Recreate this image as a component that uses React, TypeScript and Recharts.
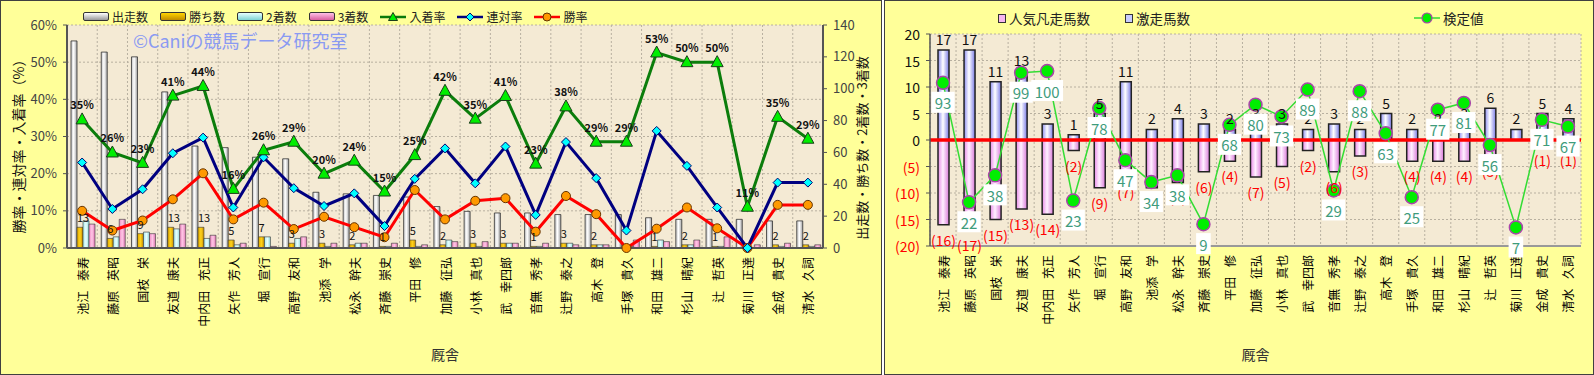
import React from 'react';
import {
  ComposedChart,
  Bar,
  Line,
  XAxis,
  YAxis,
  CartesianGrid,
  Legend,
  LabelList,
  ReferenceLine,
} from 'recharts';

// 厩舎
const trainers = [
  '池江 泰寿', '藤原 英昭', '国枝 栄', '友道 康夫', '中内田 充正', '矢作 芳人', '堀 宣行',
  '高野 友和', '池添 学', '松永 幹夫', '斉藤 崇史', '平田 修', '加藤 征弘', '小林 真也',
  '武 幸四郎', '音無 秀孝', '辻野 泰之', '高木 登', '手塚 貴久', '和田 雄二', '杉山 晴紀',
  '辻 哲英', '菊川 正達', '金成 貴史', '清水 久詞',
];

// left chart: counts
const runs = [130, 123, 120, 98, 64, 63, 57, 56, 35, 34, 33, 32, 26, 23, 22, 22, 21, 21, 21, 19, 18, 18, 18, 17, 17];
const wins = [13, 6, 9, 13, 13, 5, 7, 3, 3, 2, 1, 5, 2, 3, 3, 1, 3, 2, 0, 1, 2, 1, 0, 2, 2];
const seconds = [17, 7, 10, 12, 6, 2, 7, 6, 1, 3, 1, 1, 5, 1, 3, 1, 3, 2, 1, 5, 2, 1, 0, 1, 1];
const thirds = [15, 18, 9, 15, 8, 3, 1, 7, 3, 3, 3, 2, 4, 4, 3, 3, 2, 2, 5, 4, 5, 7, 2, 3, 2];

// left chart: rates (%)
const winRate = [10.0, 4.7, 7.4, 13.1, 20.1, 7.7, 12.2, 5.1, 8.4, 5.6, 2.9, 15.6, 7.7, 12.7, 13.4, 4.4, 14.0, 9.1, 0, 5.2, 10.9, 5.3, 0, 11.6, 11.6];
const quinellaRate = [23.0, 10.5, 15.8, 25.5, 29.7, 10.9, 24.4, 16.1, 11.3, 14.7, 5.9, 18.6, 26.8, 17.4, 27.3, 8.9, 28.5, 18.8, 4.7, 31.5, 22.1, 10.9, 0, 17.6, 17.6];
const placeRate = [34.6, 25.7, 22.9, 41.0, 43.6, 15.9, 26.3, 28.6, 20.0, 23.5, 15.2, 25.0, 42.3, 34.8, 40.9, 22.7, 38.1, 28.6, 28.6, 52.6, 50.0, 50.0, 11.1, 35.3, 29.4];

// right chart
const surgeCount = [17, 17, 11, 13, 3, 1, 5, 11, 2, 4, 3, 2, 3, 3, 2, 3, 2, 5, 2, 2, 3, 6, 2, 5, 4];
const flopCount = [16, 17, 15, 13, 14, 2, 9, 7, 9, 8, 6, 4, 7, 5, 2, 6, 3, 0, 4, 4, 4, 3, 0, 1, 1];
const testValue = [93, 22, 38, 99, 100, 23, 78, 47, 34, 38, 9, 68, 80, 73, 89, 29, 88, 63, 25, 77, 81, 56, 7, 71, 67];

const rateTicks = [0, 10, 20, 30, 40, 50, 60];
const countTicks = [0, 20, 40, 60, 80, 100, 120, 140];
const balanceTicks = [-20, -15, -10, -5, 0, 5, 10, 15, 20];

const FONT = "'Noto Sans CJK JP', 'Noto Sans', sans-serif";

const leftData = trainers.map((name, i) => ({
  name,
  runs: runs[i],
  wins: wins[i],
  second: seconds[i],
  third: thirds[i],
  winRate: winRate[i],
  quinella: quinellaRate[i],
  place: placeRate[i],
}));

const rightData = trainers.map((name, i) => ({
  name,
  surge: surgeCount[i],
  flop: -flopCount[i],
  test: testValue[i],
}));

// grid lines sit between the categories, not on them
const boundaryLines = (n: number) => ({ offset }: any) =>
  Array.from({ length: n + 1 }, (_, i) => offset.left + (offset.width * i) / n);

const box = (p: any) => {
  const vb = p.viewBox || {};
  return {
    x: p.x ?? vb.x,
    y: p.y ?? vb.y,
    w: p.width ?? vb.width ?? 0,
    h: p.height ?? vb.height ?? 0,
  };
};

const TrainerTick = (p: any) => {
  const { x, y, payload } = p;
  return (
    <text
      x={x}
      y={y + 1}
      transform={`rotate(-90, ${x}, ${y + 1})`}
      textAnchor="end"
      dominantBaseline="central"
      fontSize={12}
      fill="#000"
      style={{ wordSpacing: '7px' }}
    >
      {payload.value}
    </text>
  );
};

const BalanceTick = (p: any) => {
  const { x, y, payload } = p;
  const v = payload.value;
  return (
    <text x={x} y={y} textAnchor="end" dominantBaseline="central" fontSize={14} fill={v < 0 ? '#ff0000' : '#111'}>
      {v < 0 ? `(${-v})` : v}
    </text>
  );
};

const triangleDot = (p: any) => {
  const { cx, cy, index } = p;
  if (cx == null || cy == null) return <g key={`tri-${index}`} />;
  return (
    <path
      key={`tri-${index}`}
      d={`M${cx},${cy - 6.5}L${cx + 6},${cy + 4.5}L${cx - 6},${cy + 4.5}Z`}
      fill="#00ee00"
      stroke="#1b3d1b"
      strokeWidth={1}
    />
  );
};

const diamondDot = (p: any) => {
  const { cx, cy, index } = p;
  if (cx == null || cy == null) return <g key={`dia-${index}`} />;
  return (
    <path
      key={`dia-${index}`}
      d={`M${cx},${cy - 4.5}L${cx + 4.5},${cy}L${cx},${cy + 4.5}L${cx - 4.5},${cy}Z`}
      fill="#00ffff"
      stroke="#000070"
      strokeWidth={1}
    />
  );
};

const winsLabel = (p: any) => {
  const { x, y, w, h } = box(p);
  if (!p.value) return null;
  const top = Math.min(y, y + h);
  return (
    <text x={x} y={top - 10} dominantBaseline="central" fontSize={11} fill="#111">
      {p.value}
    </text>
  );
};

const placeLabel = (p: any) => {
  const { x, y } = box(p);
  return (
    <text x={x} y={y - 15} textAnchor="middle" dominantBaseline="central" fontSize={11} fontWeight="bold" fill="#111">
      {`${Math.round(p.value)}%`}
    </text>
  );
};

const surgeLabel = (p: any) => {
  const { x, y, w, h } = box(p);
  if (!p.value) return null;
  const top = Math.min(y, y + h);
  return (
    <text x={x + w / 2} y={top - 11} textAnchor="middle" dominantBaseline="central" fontSize={14} fill="#111">
      {p.value}
    </text>
  );
};

const flopLabel = (p: any) => {
  const { x, y, w, h } = box(p);
  if (!p.value) return null;
  const bottom = Math.max(y, y + h);
  return (
    <text x={x + w / 2} y={bottom + 15} textAnchor="middle" dominantBaseline="central" fontSize={14} fill="#ff0000">
      {`(${Math.abs(p.value)})`}
    </text>
  );
};

const testLabel = (p: any) => {
  const { x, y } = box(p);
  const s = String(p.value);
  const bw = s.length * 8.6 + 6;
  return (
    <g>
      <rect x={x - bw / 2} y={y + 9} width={bw} height={21} fill="#ffffff" />
      <text x={x} y={y + 20} textAnchor="middle" dominantBaseline="central" fontSize={15} fill="#3f9c7c">
        {s}
      </text>
    </g>
  );
};

const swatch = (a: string, b: string) => (
  <span
    style={{
      display: 'inline-block',
      width: 24,
      height: 7,
      border: '1px solid #333',
      borderRadius: 2,
      background: `linear-gradient(to bottom, ${a}, ${b})`,
    }}
  />
);

const lineIcon = (stroke: string, marker: React.ReactNode) => (
  <svg width={26} height={12}>
    <line x1={0} y1={6} x2={26} y2={6} stroke={stroke} strokeWidth={2.5} />
    {marker}
  </svg>
);

const leftLegendItems = [
  { name: '出走数', icon: swatch('#ffffff', '#9a9a9a') },
  { name: '勝ち数', icon: swatch('#ffd400', '#c08c00') },
  { name: '2着数', icon: swatch('#e6ffff', '#7fd4d4') },
  { name: '3着数', icon: swatch('#ffc0e6', '#d9609f') },
  { name: '入着率', icon: lineIcon('#0a7a0a', <path d="M13,1.5L17.5,9.5L8.5,9.5Z" fill="#00ee00" stroke="#1b3d1b" />) },
  { name: '連対率', icon: lineIcon('#000080', <path d="M13,2L17,6L13,10L9,6Z" fill="#00ffff" stroke="#000070" />) },
  { name: '勝率', icon: lineIcon('#ff0000', <circle cx={13} cy={6} r={4} fill="#ff9900" stroke="#663300" />) },
];

const LeftLegend = () => (
  <div style={{ display: 'flex', alignItems: 'center', gap: 12, fontSize: 12, color: '#222', fontFamily: FONT }}>
    {leftLegendItems.map((it) => (
      <span key={it.name} style={{ display: 'flex', alignItems: 'center', gap: 3 }}>
        {it.icon}
        <span>{it.name}</span>
      </span>
    ))}
  </div>
);

const RightLegend = () => (
  <div style={{ position: 'relative', height: 20, fontSize: 13.5, color: '#222', fontFamily: FONT }}>
    <span style={{ position: 'absolute', left: 114, top: 0, display: 'flex', alignItems: 'center', gap: 3, whiteSpace: 'nowrap' }}>
      <span style={{ display: 'inline-block', width: 6, height: 7, border: '1px solid #333', background: '#f7b6f0' }} />
      人気凡走馬数
    </span>
    <span style={{ position: 'absolute', left: 241, top: 0, display: 'flex', alignItems: 'center', gap: 3, whiteSpace: 'nowrap' }}>
      <span style={{ display: 'inline-block', width: 6, height: 7, border: '1px solid #333', background: '#c8ccff' }} />
      激走馬数
    </span>
    <span style={{ position: 'absolute', left: 530, top: 0, display: 'flex', alignItems: 'center', gap: 3, whiteSpace: 'nowrap' }}>
      <svg width={26} height={14}>
        <line x1={0} y1={7} x2={26} y2={7} stroke="#33dd33" strokeWidth={1.5} />
        <circle cx={13} cy={7} r={5} fill="#00ee00" stroke="#aa44aa" strokeWidth={1.2} />
      </svg>
      検定値
    </span>
  </div>
);

const LeftChart = () => (
  <ComposedChart
    width={882}
    height={375}
    data={leftData}
    margin={{ top: 25, right: 0, bottom: 15, left: 0 }}
    barCategoryGap={4}
    barGap={0}
  >
    <defs>
      <linearGradient id="gRuns" x1="0" y1="0" x2="1" y2="0">
        <stop offset="0" stopColor="#c4c4c4" />
        <stop offset="0.45" stopColor="#ffffff" />
        <stop offset="1" stopColor="#a0a0a0" />
      </linearGradient>
      <linearGradient id="gWins" x1="0" y1="0" x2="1" y2="0">
        <stop offset="0" stopColor="#e0a800" />
        <stop offset="0.5" stopColor="#ffd21a" />
        <stop offset="1" stopColor="#c89000" />
      </linearGradient>
      <linearGradient id="gSecond" x1="0" y1="0" x2="1" y2="0">
        <stop offset="0" stopColor="#a8e8e8" />
        <stop offset="0.5" stopColor="#e8ffff" />
        <stop offset="1" stopColor="#90d8d8" />
      </linearGradient>
      <linearGradient id="gThird" x1="0" y1="0" x2="1" y2="0">
        <stop offset="0" stopColor="#f08cc4" />
        <stop offset="0.5" stopColor="#ffc6e6" />
        <stop offset="1" stopColor="#e078b4" />
      </linearGradient>
    </defs>
    <CartesianGrid
      yAxisId="rate"
      fill="#f4ead4"
      fillOpacity={1}
      stroke="#b8b0a0"
      strokeDasharray="2 2"
      verticalCoordinatesGenerator={boundaryLines(trainers.length)}
    />
    <XAxis
      dataKey="name"
      interval={0}
      height={112}
      tick={(p: any) => <TrainerTick {...p} />}
      tickLine={false}
      axisLine={{ stroke: '#555', strokeWidth: 2 }}
      label={{ value: '厩舎', position: 'insideBottom', offset: 0, fontSize: 14, fill: '#333' }}
    />
    <YAxis
      yAxisId="rate"
      width={67}
      domain={[0, 60]}
      ticks={rateTicks}
      tickFormatter={(v: number) => `${v}%`}
      tick={{ fontSize: 13, fill: '#444' }}
      tickSize={4}
      tickMargin={6}
      axisLine={{ stroke: '#555', strokeWidth: 2 }}
      tickLine={{ stroke: '#555' }}
      label={{
        content: () => (
          <text x={18} y={143} transform="rotate(-90, 18, 143)" textAnchor="middle" dominantBaseline="central" fontSize={14} fill="#111">
            勝率・連対率・入着率（%）
          </text>
        ),
      }}
    />
    <YAxis
      yAxisId="count"
      orientation="right"
      width={59}
      domain={[0, 140]}
      ticks={countTicks}
      tick={{ fontSize: 13, fill: '#444' }}
      tickSize={4}
      tickMargin={6}
      axisLine={{ stroke: '#555', strokeWidth: 2 }}
      tickLine={{ stroke: '#555' }}
      label={{
        content: () => (
          <text x={861} y={148} transform="rotate(-90, 861, 148)" textAnchor="middle" dominantBaseline="central" fontSize={13} fill="#111">
            出走数・勝ち数・2着数・3着数
          </text>
        ),
      }}
    />
    <Legend
      content={() => <LeftLegend />}
      layout="horizontal"
      verticalAlign="middle"
      align="center"
      wrapperStyle={{ top: 8, left: 83, width: 640, height: 18 }}
    />
    <Bar yAxisId="count" dataKey="runs" fill="url(#gRuns)" stroke="#333" strokeWidth={0.8} isAnimationActive={false} />
    <Bar yAxisId="count" dataKey="wins" fill="url(#gWins)" stroke="#333" strokeWidth={0.6} isAnimationActive={false}>
      <LabelList dataKey="wins" content={winsLabel} />
    </Bar>
    <Bar yAxisId="count" dataKey="second" fill="url(#gSecond)" stroke="#333" strokeWidth={0.6} isAnimationActive={false} />
    <Bar yAxisId="count" dataKey="third" fill="url(#gThird)" stroke="#333" strokeWidth={0.6} isAnimationActive={false} />
    <Line yAxisId="rate" dataKey="winRate" stroke="#ff0000" strokeWidth={3} isAnimationActive={false}
      dot={{ r: 4.5, fill: '#ff9900', stroke: '#663300', strokeWidth: 1 }} />
    <Line yAxisId="rate" dataKey="quinella" stroke="#000080" strokeWidth={3} isAnimationActive={false} dot={diamondDot} />
    <Line yAxisId="rate" dataKey="place" stroke="#0b7d0b" strokeWidth={3} isAnimationActive={false} dot={triangleDot}>
      <LabelList dataKey="place" content={placeLabel} />
    </Line>
  </ComposedChart>
);

const RightChart = () => (
  <ComposedChart
    width={710}
    height={375}
    data={rightData}
    margin={{ top: 34, right: 13, bottom: 15, left: 0 }}
    stackOffset="sign"
    barSize={11}
  >
    <defs>
      <linearGradient id="gSurge" x1="0" y1="0" x2="1" y2="0">
        <stop offset="0" stopColor="#8c8cf0" />
        <stop offset="0.45" stopColor="#ffffff" />
        <stop offset="1" stopColor="#7a7ae6" />
      </linearGradient>
      <linearGradient id="gFlop" x1="0" y1="0" x2="1" y2="0">
        <stop offset="0" stopColor="#e88ae8" />
        <stop offset="0.45" stopColor="#fff0ff" />
        <stop offset="1" stopColor="#d97ad9" />
      </linearGradient>
    </defs>
    <CartesianGrid
      yAxisId="cnt"
      fill="#f4ead4"
      fillOpacity={1}
      stroke="#b8b0a0"
      strokeDasharray="2 2"
      verticalCoordinatesGenerator={boundaryLines(trainers.length)}
    />
    <XAxis
      dataKey="name"
      interval={0}
      height={114}
      tick={(p: any) => <TrainerTick {...p} />}
      tickLine={false}
      axisLine={{ stroke: '#999', strokeWidth: 2 }}
      label={{ value: '厩舎', position: 'insideBottom', offset: 0, fontSize: 14, fill: '#333' }}
    />
    <YAxis
      yAxisId="cnt"
      width={46}
      domain={[-20, 20]}
      ticks={balanceTicks}
      tick={(p: any) => <BalanceTick {...p} />}
      tickSize={4}
      tickMargin={6}
      axisLine={{ stroke: '#555', strokeWidth: 1.5 }}
      tickLine={{ stroke: '#555' }}
    />
    <YAxis
      yAxisId="test"
      orientation="right"
      width={0}
      domain={[-4, 122]}
      tick={false}
      tickLine={false}
      axisLine={{ stroke: '#a8a8a8', strokeWidth: 2 }}
    />
    <Legend
      content={() => <RightLegend />}
      layout="horizontal"
      verticalAlign="middle"
      align="center"
      wrapperStyle={{ top: 8, left: 0, width: 700, height: 20 }}
    />
    <Bar yAxisId="cnt" dataKey="flop" stackId="s" fill="url(#gFlop)" stroke="#222" strokeWidth={1.5} isAnimationActive={false}>
      <LabelList dataKey="flop" content={flopLabel} />
    </Bar>
    <Bar yAxisId="cnt" dataKey="surge" stackId="s" fill="url(#gSurge)" stroke="#222" strokeWidth={1.5} isAnimationActive={false}>
      <LabelList dataKey="surge" content={surgeLabel} />
    </Bar>
    <ReferenceLine yAxisId="cnt" y={0} stroke="#ff0000" strokeWidth={3.5} />
    <Line
      yAxisId="test"
      dataKey="test"
      stroke="#33dd33"
      strokeWidth={1.5}
      isAnimationActive={false}
      dot={{ r: 6.5, fill: '#00ee00', stroke: '#aa44aa', strokeWidth: 1.5 }}
    >
      <LabelList dataKey="test" content={testLabel} />
    </Line>
  </ComposedChart>
);

export default function App() {
  return (
    <div style={{ position: 'absolute', left: 0, top: 0, width: 1594, height: 375, fontFamily: FONT, background: '#fff' }}>
      <div style={{ position: 'absolute', left: 0, top: 0, width: 882, height: 375, boxSizing: 'border-box', border: '1.5px solid #404040', background: '#ffff99' }} />
      <div style={{ position: 'absolute', left: 884, top: 0, width: 710, height: 375, boxSizing: 'border-box', border: '1.5px solid #404040', background: '#ffff99' }} />
      <div style={{ position: 'absolute', left: 0, top: 0 }}>
        <LeftChart />
      </div>
      <div style={{ position: 'absolute', left: 884, top: 0 }}>
        <RightChart />
      </div>
      <div style={{ position: 'absolute', left: 133, top: 27, fontSize: 18, color: '#8a9af2', whiteSpace: 'nowrap', pointerEvents: 'none' }}>
        ©Caniの競馬データ研究室
      </div>
    </div>
  );
}
